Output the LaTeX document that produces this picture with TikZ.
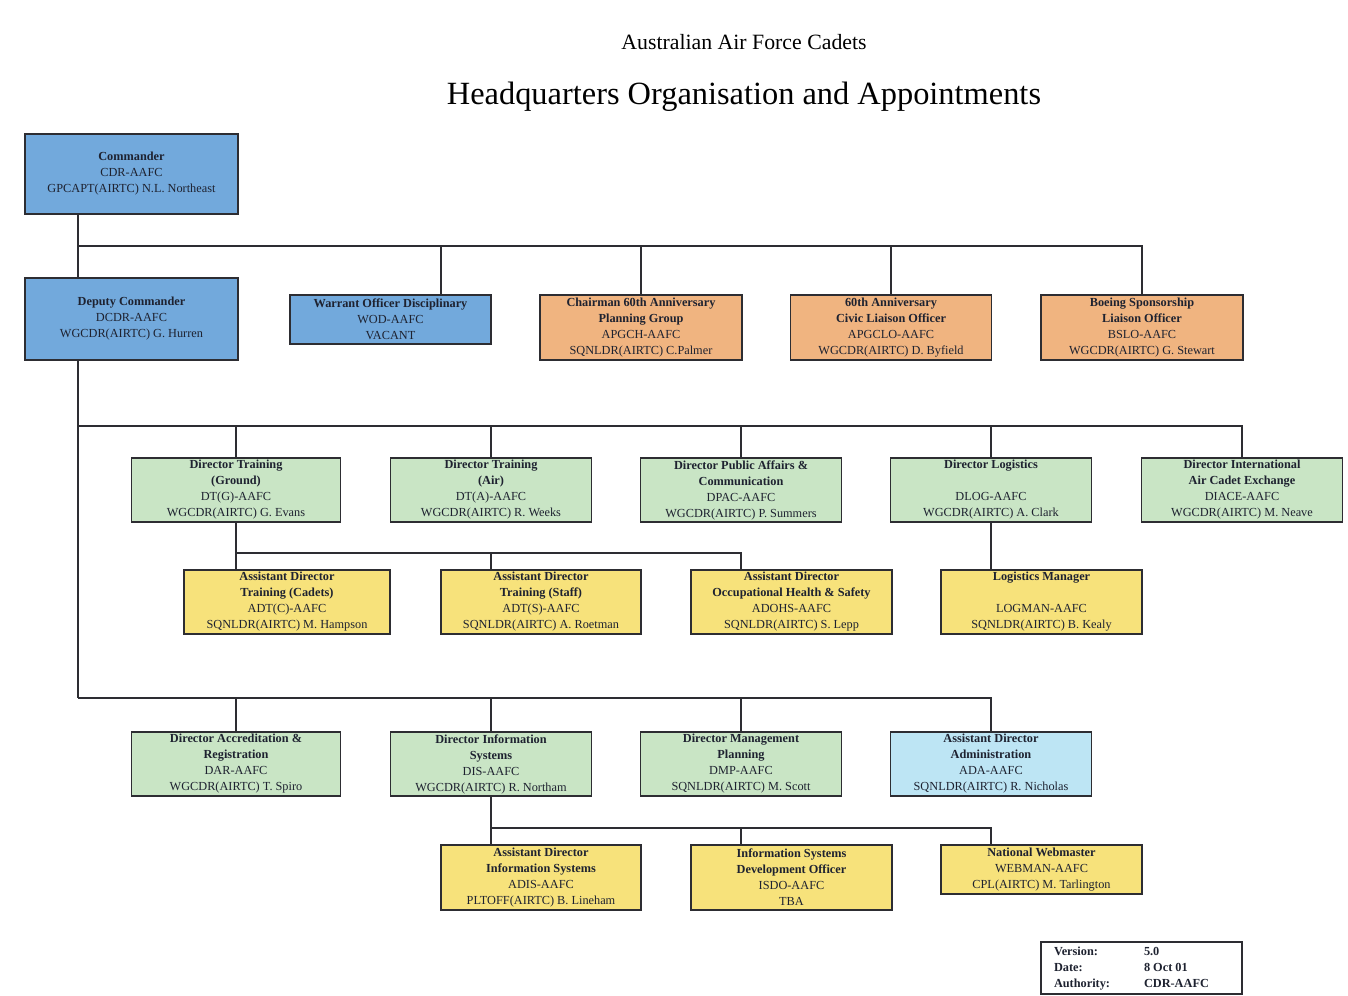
\documentclass[tikz,border=0pt]{standalone}
\usepackage{fontspec}
\setmainfont{Liberation Serif}
\definecolor{cblue}{RGB}{114,169,220}
\definecolor{corange}{RGB}{240,180,128}
\definecolor{cgreen}{RGB}{201,229,197}
\definecolor{cyellow}{RGB}{247,226,123}
\definecolor{ccyan}{RGB}{189,229,244}
\definecolor{bd}{RGB}{45,45,50}
\definecolor{txt}{RGB}{30,34,48}
\newcommand\bxf{\fontsize{12.3}{16}\selectfont}
\tikzset{
  orgbox/.style={rectangle, draw=bd, line width=1.7pt, inner sep=0pt, align=center, text=txt, font=\bxf},
  conn/.style={draw=bd, line width=1.5pt},
}
\begin{document}
\begin{tikzpicture}[x=1pt,y=-1pt]
\fill[white] (0,0) rectangle (1348,995);
\useasboundingbox (0,0) rectangle (1348,995);

\node[text=black, font=\fontsize{21.8}{26}\selectfont] (sub) at (744,42) {Australian Air Force Cadets};
\node[text=black, font=\fontsize{32.4}{38}\selectfont] (ttl) at (744,97) {Headquarters Organisation and Appointments};

% row 1-2
\node[orgbox, fill=cblue, minimum width=213, minimum height=80] (cdr) at (131.5,174)
  {\textbf{Commander}\\CDR-AAFC\\GPCAPT(AIRTC) N.L. Northeast};
\node[orgbox, fill=cblue, minimum width=213, minimum height=82] (dep) at (131.5,319)
  {\textbf{Deputy Commander}\\DCDR-AAFC\\WGCDR(AIRTC) G. Hurren};
\node[orgbox, fill=cblue, minimum width=201, minimum height=49] (wod) at (390.5,319.5)
  {\textbf{Warrant Officer Disciplinary}\\WOD-AAFC\\VACANT};
\node[orgbox, fill=corange, minimum width=202, minimum height=65] (ch) at (641,327.5)
  {\textbf{Chairman 60th Anniversary}\\\textbf{Planning Group}\\APGCH-AAFC\\SQNLDR(AIRTC) C.Palmer};
\node[orgbox, fill=corange, minimum width=201, minimum height=65] (civ) at (891,327.5)
  {\textbf{60th Anniversary}\\\textbf{Civic Liaison Officer}\\APGCLO-AAFC\\WGCDR(AIRTC) D. Byfield};
\node[orgbox, fill=corange, minimum width=202, minimum height=65] (boe) at (1142,327.5)
  {\textbf{Boeing Sponsorship}\\\textbf{Liaison Officer}\\BSLO-AAFC\\WGCDR(AIRTC) G. Stewart};

% row 3
\node[orgbox, fill=cgreen, minimum width=209, minimum height=64] (dtg) at (236,490)
  {\textbf{Director Training}\\\textbf{(Ground)}\\DT(G)-AAFC\\WGCDR(AIRTC) G. Evans};
\node[orgbox, fill=cgreen, minimum width=201, minimum height=64] (dta) at (491,490)
  {\textbf{Director Training}\\\textbf{(Air)}\\DT(A)-AAFC\\WGCDR(AIRTC) R. Weeks};
\node[orgbox, fill=cgreen, minimum width=201, minimum height=64] (dpac) at (741,490)
  {\textbf{Director Public Affairs \&}\\\textbf{Communication}\\DPAC-AAFC\\WGCDR(AIRTC) P. Summers};
\node[orgbox, fill=cgreen, minimum width=201, minimum height=64] (dlog) at (991,490)
  {\textbf{Director Logistics}\\\strut\\DLOG-AAFC\\WGCDR(AIRTC) A. Clark};
\node[orgbox, fill=cgreen, minimum width=201, minimum height=64] (diace) at (1242,490)
  {\textbf{Director International}\\\textbf{Air Cadet Exchange}\\DIACE-AAFC\\WGCDR(AIRTC) M. Neave};

% row 4
\node[orgbox, fill=cyellow, minimum width=206, minimum height=64] (adtc) at (287,602)
  {\textbf{Assistant Director}\\\textbf{Training (Cadets)}\\ADT(C)-AAFC\\SQNLDR(AIRTC) M. Hampson};
\node[orgbox, fill=cyellow, minimum width=200, minimum height=64] (adts) at (541,602)
  {\textbf{Assistant Director}\\\textbf{Training (Staff)}\\ADT(S)-AAFC\\SQNLDR(AIRTC) A. Roetman};
\node[orgbox, fill=cyellow, minimum width=201, minimum height=64] (adohs) at (791.5,602)
  {\textbf{Assistant Director}\\\textbf{Occupational Health \& Safety}\\ADOHS-AAFC\\SQNLDR(AIRTC) S. Lepp};
\node[orgbox, fill=cyellow, minimum width=201, minimum height=64] (logman) at (1041.5,602)
  {\textbf{Logistics Manager}\\\strut\\LOGMAN-AAFC\\SQNLDR(AIRTC) B. Kealy};

% row 5
\node[orgbox, fill=cgreen, minimum width=209, minimum height=64] (dar) at (236,764)
  {\textbf{Director Accreditation \&}\\\textbf{Registration}\\DAR-AAFC\\WGCDR(AIRTC) T. Spiro};
\node[orgbox, fill=cgreen, minimum width=201, minimum height=64] (dis) at (491,764)
  {\textbf{Director Information}\\\textbf{Systems}\\DIS-AAFC\\WGCDR(AIRTC) R. Northam};
\node[orgbox, fill=cgreen, minimum width=201, minimum height=64] (dmp) at (741,764)
  {\textbf{Director Management}\\\textbf{Planning}\\DMP-AAFC\\SQNLDR(AIRTC) M. Scott};
\node[orgbox, fill=ccyan, minimum width=201, minimum height=64] (ada) at (991,764)
  {\textbf{Assistant Director}\\\textbf{Administration}\\ADA-AAFC\\SQNLDR(AIRTC) R. Nicholas};

% row 6
\node[orgbox, fill=cyellow, minimum width=200, minimum height=65] (adis) at (541,877.5)
  {\textbf{Assistant Director}\\\textbf{Information Systems}\\ADIS-AAFC\\PLTOFF(AIRTC) B. Lineham};
\node[orgbox, fill=cyellow, minimum width=201, minimum height=65] (isdo) at (791.5,877.5)
  {\textbf{Information Systems}\\\textbf{Development Officer}\\ISDO-AAFC\\TBA};
\node[orgbox, fill=cyellow, minimum width=201, minimum height=49] (web) at (1041.5,869.5)
  {\textbf{National Webmaster}\\WEBMAN-AAFC\\CPL(AIRTC) M. Tarlington};

% version box
\node[orgbox, fill=white, minimum width=201, minimum height=52] (ver) at (1141.5,968)
  {\begin{tabular}{@{}p{90pt}@{}p{85pt}@{}}
   \textbf{Version:} & \textbf{5.0}\\
   \textbf{Date:} & \textbf{8 Oct 01}\\
   \textbf{Authority:} & \textbf{CDR-AAFC}
   \end{tabular}};

% connectors
\coordinate (b1) at (78,246);
\coordinate (b2) at (78,426);
\coordinate (b3) at (78,698);
\coordinate (b4) at (236,553);
\coordinate (b5) at (491,828);

\draw[conn] (cdr.south -| b1) -- (dep.north -| b1);
\draw[conn] (b1) -| ([xshift=50.5pt]wod.north);
\draw[conn] (b1) -| (ch.north);
\draw[conn] (b1) -| (civ.north);
\draw[conn] (b1) -| (boe.north);

\draw[conn] (dep.south -| b2) -- (b3);
\draw[conn] (b2) -| (dtg.north);
\draw[conn] (b2) -| (dta.north);
\draw[conn] (b2) -| (dpac.north);
\draw[conn] (b2) -| (dlog.north);
\draw[conn] (b2) -| (diace.north);

\draw[conn] (dtg.south) -- (b4);
\draw[conn] (b4) -- (adtc.north -| b4);
\draw[conn] (b4) -| (adts.north -| dta.south);
\draw[conn] (b4) -| (adohs.north -| dpac.south);
\draw[conn] (dlog.south) -- (logman.north -| dlog.south);

\draw[conn] (b3) -| (dar.north);
\draw[conn] (b3) -| (dis.north);
\draw[conn] (b3) -| (dmp.north);
\draw[conn] (b3) -| (ada.north);

\draw[conn] (dis.south) -- (b5);
\draw[conn] (b5) -- (adis.north -| b5);
\draw[conn] (b5) -| (isdo.north -| dmp.south);
\draw[conn] (b5) -| (web.north -| ada.south);
\end{tikzpicture}
\end{document}
